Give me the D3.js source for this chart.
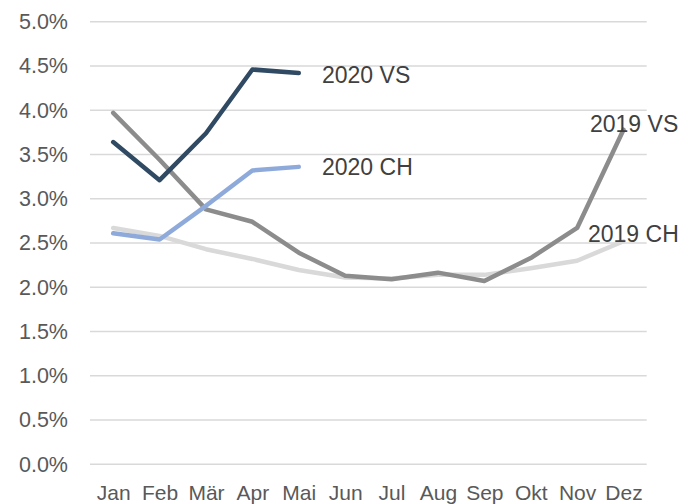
<!DOCTYPE html>
<html>
<head>
<meta charset="utf-8">
<script src="https://cdn.jsdelivr.net/npm/d3@7"></script>
<style>
  body { margin: 0; background: #fff; }
  svg { display: block; font-family: "Liberation Sans", Arial, sans-serif; }
</style>
</head>
<body>
<svg id="chart" width="680" height="504"></svg>
<script>
// months on the x axis
const months = ["Jan", "Feb", "Mär", "Apr", "Mai", "Jun", "Jul", "Aug", "Sep", "Okt", "Nov", "Dez"];
const yTicks = [0, 0.5, 1, 1.5, 2, 2.5, 3, 3.5, 4, 4.5, 5];

// values in percent
const vs2019 = [3.97, 3.44, 2.88, 2.74, 2.39, 2.13, 2.09, 2.165, 2.07, 2.33, 2.67, 3.78];
const ch2019 = [2.67, 2.58, 2.43, 2.32, 2.195, 2.11, 2.10, 2.14, 2.14, 2.215, 2.30, 2.52];
const vs2020 = [3.64, 3.21, 3.74, 4.46, 4.42];
const ch2020 = [2.61, 2.54, 2.92, 3.32, 3.36];

const series = [
  { name: "2019 CH", values: ch2019, color: "#d9d9d9", lx: 588, ly: 241.5 },
  { name: "2019 VS", values: vs2019, color: "#8c8c8c", lx: 590, ly: 131.5 },
  { name: "2020 CH", values: ch2020, color: "#8eaadb", lx: 322, ly: 175 },
  { name: "2020 VS", values: vs2020, color: "#2f4a62", lx: 322, ly: 83 }
];

const svg = d3.select("#chart");

const x = d3.scalePoint().domain(months).range([90, 646.7]).padding(0.5);
const y = d3.scaleLinear().domain([0, 5]).range([464.3, 21.7]);

// grid lines
svg.append("g")
  .selectAll("line")
  .data(yTicks)
  .join("line")
  .attr("x1", 90).attr("x2", 646.7)
  .attr("y1", d => y(d)).attr("y2", d => y(d))
  .attr("stroke", "#d9d9d9")
  .attr("stroke-width", 1.5);

// y axis labels
const yAxis = svg.append("g")
  .attr("transform", "translate(68,0)")
  .call(d3.axisLeft(y).tickValues(yTicks).tickSize(0).tickPadding(0)
    .tickFormat(d => d3.format(".1f")(d) + "%"));
yAxis.select(".domain").remove();
yAxis.selectAll("text")
  .attr("font-size", 21.5)
  .attr("font-family", "Liberation Sans, Arial, sans-serif")
  .attr("fill", "#595959");

// x axis labels
const xAxis = svg.append("g")
  .attr("transform", "translate(0,485)")
  .call(d3.axisBottom(x).tickSize(0).tickPadding(0));
xAxis.select(".domain").remove();
xAxis.selectAll("text")
  .attr("font-size", 21)
  .attr("font-family", "Liberation Sans, Arial, sans-serif")
  .attr("fill", "#595959");

const line = d3.line()
  .x((d, i) => x(months[i]))
  .y(d => y(d));

svg.append("g")
  .selectAll("path")
  .data(series)
  .join("path")
  .attr("d", d => line(d.values))
  .attr("fill", "none")
  .attr("stroke", d => d.color)
  .attr("stroke-width", 4.5)
  .attr("stroke-linejoin", "round")
  .attr("stroke-linecap", "round");

// series labels
svg.append("g")
  .selectAll("text")
  .data(series)
  .join("text")
  .attr("x", d => d.lx)
  .attr("y", d => d.ly)
  .attr("font-size", 23)
  .attr("fill", "#404040")
  .text(d => d.name);
</script>
</body>
</html>
